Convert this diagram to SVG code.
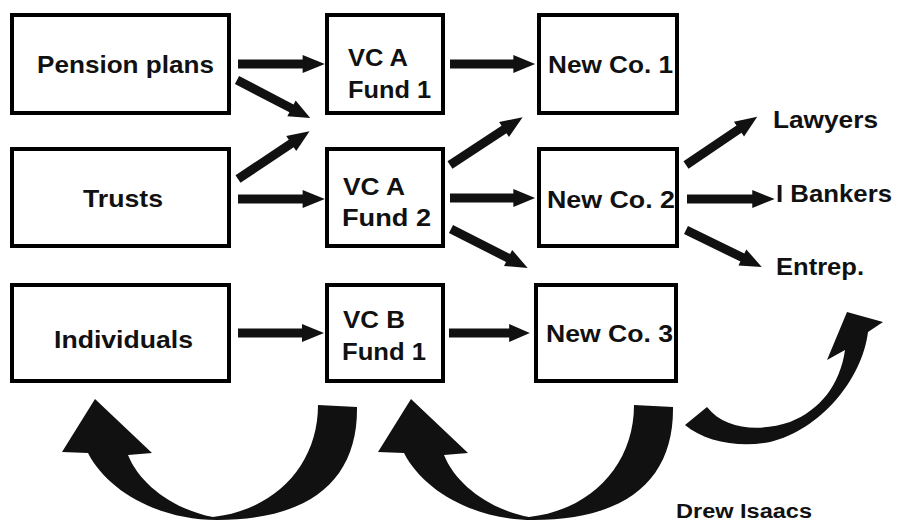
<svg xmlns="http://www.w3.org/2000/svg" xmlns:xlink="http://www.w3.org/1999/xlink" width="897" height="524" viewBox="0 0 897 524">
<style>
.box{fill:#fff;stroke:#000;stroke-width:4}
.t{font-family:"Liberation Sans",Arial,sans-serif;font-weight:bold;font-size:24px;fill:#111}
.arr{fill:#111}
.big{fill:#111}
</style>
<defs>
<polygon id="blk" points="0,-4.5 64,-4.5 64,-9 86,0 64,9 64,4.5 0,4.5"/>
<path id="curl" d="M318,405 L357,407 C358,480 310,520 217,520 C160,520 108,492 88,453 L62,452 L95,399 L152,453 L128,455 C140,485 175,510 213,517 C275,510 318,465 318,405 Z"/>
</defs>
<rect width="897" height="524" fill="#fff"/>
<g id="pension"><rect class="box" x="12" y="15" width="217" height="98"/><text class="t" x="37" y="73" textLength="177" lengthAdjust="spacingAndGlyphs">Pension plans</text></g>
<g id="trusts"><rect class="box" x="12" y="149" width="217" height="97"/><text class="t" x="83" y="207" textLength="80" lengthAdjust="spacingAndGlyphs">Trusts</text></g>
<g id="individuals"><rect class="box" x="12" y="285" width="217" height="96"/><text class="t" x="54" y="348" textLength="139" lengthAdjust="spacingAndGlyphs">Individuals</text></g>
<g id="vca1"><rect class="box" x="327" y="15" width="116" height="98"/><text class="t" x="348" y="66" textLength="60" lengthAdjust="spacingAndGlyphs">VC A</text><text class="t" x="348" y="98" textLength="83" lengthAdjust="spacingAndGlyphs">Fund 1</text></g>
<g id="vca2"><rect class="box" x="327" y="149" width="116" height="97"/><text class="t" x="343" y="195" textLength="62" lengthAdjust="spacingAndGlyphs">VC A</text><text class="t" x="342" y="226" textLength="89" lengthAdjust="spacingAndGlyphs">Fund 2</text></g>
<g id="vcb1"><rect class="box" x="327" y="285" width="116" height="96"/><text class="t" x="343" y="328" textLength="62" lengthAdjust="spacingAndGlyphs">VC B</text><text class="t" x="342" y="360" textLength="84" lengthAdjust="spacingAndGlyphs">Fund 1</text></g>
<g id="newco1"><rect class="box" x="539" y="15" width="138" height="98"/><text class="t" x="548" y="73" textLength="125" lengthAdjust="spacingAndGlyphs">New Co. 1</text></g>
<g id="newco2"><rect class="box" x="539" y="149" width="138" height="97"/><text class="t" x="547" y="208" textLength="128" lengthAdjust="spacingAndGlyphs">New Co. 2</text></g>
<g id="newco3"><rect class="box" x="536" y="285" width="140" height="96"/><text class="t" x="546" y="342" textLength="127" lengthAdjust="spacingAndGlyphs">New Co. 3</text></g>
<g id="lawyers"><text class="t" x="773" y="128" textLength="105" lengthAdjust="spacingAndGlyphs">Lawyers</text></g>
<g id="ibankers"><text class="t" x="776" y="202" textLength="116" lengthAdjust="spacingAndGlyphs">I Bankers</text></g>
<g id="entrep"><text class="t" x="776" y="275" textLength="88" lengthAdjust="spacingAndGlyphs">Entrep.</text></g>
<g id="author"><text class="t" x="676" y="518" style="font-size:20px" textLength="136" lengthAdjust="spacingAndGlyphs">Drew Isaacs</text></g>
<g id="connectors" class="arr">
<use xlink:href="#blk" transform="translate(238,64) scale(1.01,1)"/>
<use xlink:href="#blk" transform="translate(238,199) scale(1.01,1)"/>
<use xlink:href="#blk" transform="translate(238,333) scale(1,1)"/>
<use xlink:href="#blk" transform="translate(450,64) scale(0.99,1)"/>
<use xlink:href="#blk" transform="translate(450,198) scale(0.99,1)"/>
<use xlink:href="#blk" transform="translate(449,333) scale(0.94,1)"/>
<use xlink:href="#blk" transform="translate(687,199) scale(1.02,1)"/>
<use xlink:href="#blk" transform="translate(237,80) rotate(27.5) scale(0.96,1)"/>
<use xlink:href="#blk" transform="translate(238,179) rotate(-33.7) scale(1.0,1)"/>
<use xlink:href="#blk" transform="translate(450,165) rotate(-33.3) scale(1.01,1)"/>
<use xlink:href="#blk" transform="translate(451,229) rotate(26.9) scale(1.0,1)"/>
<use xlink:href="#blk" transform="translate(686,165) rotate(-34.1) scale(1.0,1)"/>
<use xlink:href="#blk" transform="translate(686,230) rotate(26) scale(0.98,1)"/>
<use class="big" xlink:href="#curl"/>
<use class="big" xlink:href="#curl" transform="translate(316,0)"/>
<path class="big" d="M685,425 L707,407 C725,430 760,432 790,422 C820,410 840,385 845,350 L827,360 L847,312 L883,322 L868,332 C862,380 820,430 770,442 C740,448 705,442 685,425 Z"/>
</g>
</svg>
